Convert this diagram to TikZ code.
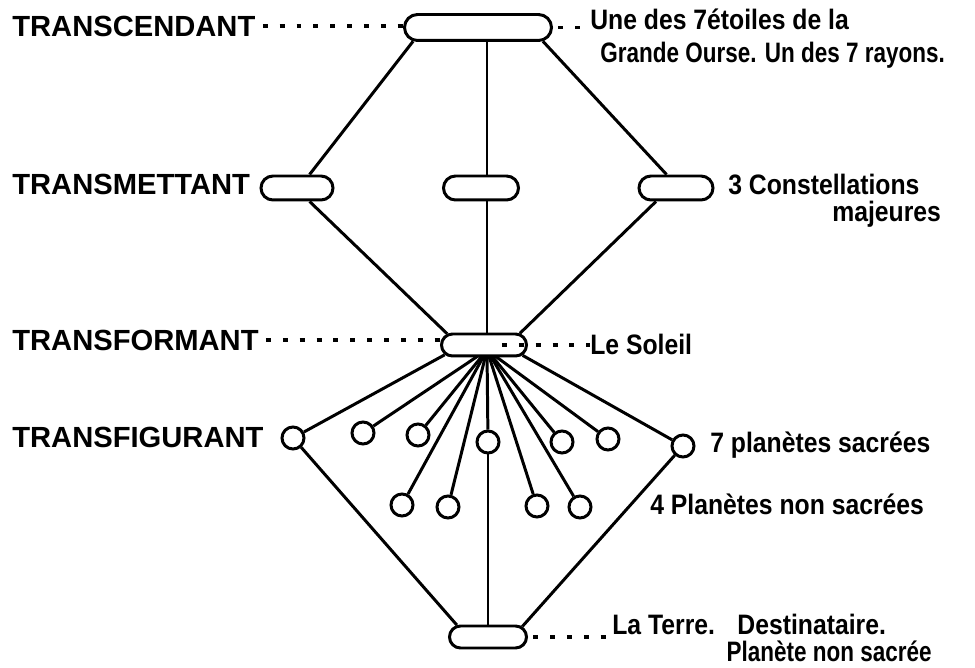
\documentclass[tikz,border=0pt]{standalone}
\usepackage{fontspec}
\setmainfont{Liberation Sans}
\newfontfamily\narrowfont{Liberation Sans}[FakeStretch=0.88]
\newfontfamily\narrowerfont{Liberation Sans}[FakeStretch=0.8]
\usetikzlibrary{shapes.misc,backgrounds,positioning}

\begin{document}
\begin{tikzpicture}[x=0.02cm,y=-0.02cm,
  capsule/.style={draw,rounded rectangle,fill=white,line width=1.7pt,inner sep=0pt,minimum height=0.48cm},
  planet/.style={draw,circle,fill=white,line width=1.7pt,inner sep=0pt,minimum size=0.44cm},
  link/.style={line width=1.7pt},
  leader/.style={line width=2pt,dash pattern=on 2.8pt off 6.8pt},
  level/.style={font=\bfseries\fontsize{16.6}{18}\selectfont,inner sep=0pt,anchor=west},
  note/.style={font=\narrowfont\bfseries\fontsize{16}{18}\selectfont,inner sep=0pt,anchor=base west}
]
  \useasboundingbox (0,0) rectangle (975,668);

  % the five levels
  \node[capsule,minimum width=2.94cm,minimum height=0.52cm] (top) at (478,27.5) {};
  \node[capsule,minimum width=1.44cm] (tl) at (297,188) {};
  \node[capsule,minimum width=1.5cm] (tm) at (481,188) {};
  \node[capsule,minimum width=1.48cm] (tr) at (676,188) {};
  \node[capsule,minimum width=1.7cm,minimum height=0.44cm] (sun) at (484,345) {};
  \node[capsule,minimum width=1.54cm,minimum height=0.44cm] (earth) at (488,637) {};
  \coordinate (hub) at (487,350);

  % planets
  \node[planet] (c1) at (293,438) {};
  \node[planet] (c2) at (363,433) {};
  \node[planet] (c3) at (418,435) {};
  \node[planet] (c4) at (488,442) {};
  \node[planet] (c5) at (562,442) {};
  \node[planet] (c6) at (608,439) {};
  \node[planet] (c7) at (683,446) {};
  \node[planet] (p1) at (402,505) {};
  \node[planet] (p2) at (448,507) {};
  \node[planet] (p3) at (537,506) {};
  \node[planet] (p4) at (580,507) {};

  % left column
  \node[level] (lvA) at (12,26) {TRANSCENDANT};
  \node[level] (lvB) at (12,184) {TRANSMETTANT};
  \node[level] (lvC) at (12,340) {TRANSFORMANT};
  \node[level] (lvD) at (12,437) {TRANSFIGURANT};

  % right column
  \node[note] (ursa) at (590,30) {Une des 7étoiles de la};
  \node[note,font=\narrowerfont\bfseries\fontsize{16}{18}\selectfont] (ursab) at (600,63) {Grande Ourse. Un des 7 rayons.};
  \node[note] (const) at (728,195) {3 Constellations};
  \node[note] (constb) at (832,222) {majeures};
  \node[note] (soleil) at (590,355) {Le Soleil};
  \node[note] (sacred) at (710,453) {7 planètes sacrées};
  \node[note] (profane) at (650,515) {4 Planètes non sacrées};
  \node[note] (terre) at (612,635) {La Terre.\hspace{0.8em}Destinataire.};
  \node[note,anchor=base east,font=\narrowerfont\bfseries\fontsize{16}{18}\selectfont] (terreb) at (932,662) {Planète non sacrée};

  \begin{scope}[on background layer]
    \draw[link] (top.192) -- (tl.47);
    \draw[link] (top.348) -- (tr.125);
    \draw[link] (top.south -| hub) -- (hub);
    \draw[link] (tl.313) -- (sun.163);
    \draw[link] (tr.214) -- (sun.18);
    \draw[link] (sun.194) -- (c1);
    \draw[link] (sun.345) -- (c7);
    \draw[link] (hub) -- (c2);
    \draw[link] (hub) -- (c3);
    \draw[link] (hub) -- (c4);
    \draw[link] (hub) -- (c5);
    \draw[link] (hub) -- (c6);
    \draw[link] (hub) -- (p1);
    \draw[link] (hub) -- (p2);
    \draw[link] (hub) -- (p3);
    \draw[link] (hub) -- (p4);
    \draw[link] (c1) -- (earth.159);
    \draw[link] (c7) -- (earth.17);
    \draw[link] (c4) -- (c4 |- earth.north);
  \end{scope}

  % dotted leaders
  \draw[leader] ([xshift=4pt]lvA.east) -- (lvA.east -| top.west);
  \draw[leader] ([xshift=4pt]lvC.east) -- (lvC.east -| sun.west);
  \draw[leader] ([xshift=3pt]top.east) -- (top.east -| ursa.west);
  \draw[leader] ([xshift=0.36cm]sun.center) -- (sun.center -| soleil.west);
  \draw[leader] ([xshift=3pt]earth.east) -- (earth.east -| terre.west);
\end{tikzpicture}
\end{document}
